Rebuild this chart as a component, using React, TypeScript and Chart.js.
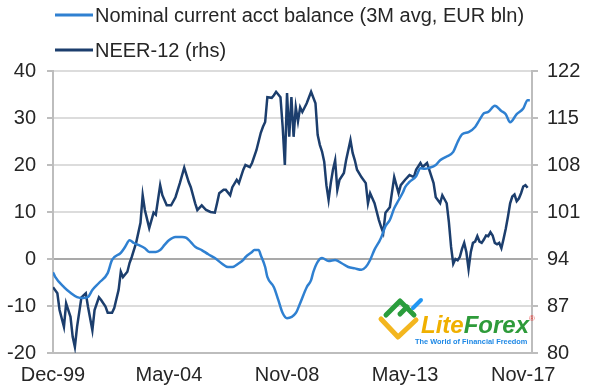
import React, { useEffect, useRef } from "react";
import { Chart, registerables } from "chart.js";

Chart.register(...registerables);

// x values are months since Dec-99
const tickMonths = [0, 53, 107, 161, 215];
const tickLabels = ["Dec-99", "May-04", "Nov-08", "May-13", "Nov-17"];
const leftTicks = { min: -20, max: 40, step: 10 };
const rightTicks = { min: 80, max: 122, step: 7 };

const caLabel = "Nominal current acct balance (3M avg, EUR bln)";
const caMonths = [
  0, 1, 5, 8, 11, 14, 16, 18, 21, 25, 27, 31, 33, 35, 37, 39, 42, 44, 47, 49,
  51, 53, 56, 59, 61, 63, 65, 68, 71, 74, 77, 80, 82, 85, 87, 88, 91, 92, 94, 95,
  97, 98, 101, 103, 105, 107, 111, 113, 116, 118, 119, 121, 123, 126, 129, 132, 135, 138, 141, 143,
  145, 147, 149, 150, 152, 154, 156, 158, 160, 161, 163, 166, 168, 170, 172, 175, 177, 180, 183, 185,
  187, 190, 193, 195, 197, 199, 202, 205, 207, 209, 212, 215, 217, 218,
];
const caValues = [
  -2.8, -3.8, -6.0, -7.2, -8.1, -8.3, -8.1, -6.6, -5.1, -3.0, -0.2, 1.3, 2.6, 4.0, 3.4, 3.0, 2.3, 1.5, 1.5, 1.9,
  3.0, 4.0, 4.7, 4.7, 4.5, 3.6, 2.6, 1.9, 1.0, 0.2, -0.9, -1.7, -1.7, -0.9, -0.2, 0.4, 1.5, 1.9, 1.9, 0.8,
  -1.7, -3.8, -6.0, -8.7, -11.5, -12.6, -11.5, -9.4, -6.0, -4.5, -2.8, -0.6, 0.2, -0.4, -0.2, -0.9, -1.7, -2.0, -2.3, -1.7,
  -0.2, 2.0, 3.6, 4.5, 7.0, 8.3, 10.8, 12.5, 14.2, 15.3, 16.4, 17.6, 19.3, 19.2, 19.4, 20.0, 21.0, 21.8, 22.8, 24.9,
  26.5, 27.0, 28.1, 29.6, 31.0, 31.3, 32.6, 31.5, 30.8, 29.1, 30.8, 32.0, 33.8, 33.8,
];

const neerLabel = "NEER-12 (rhs)";
const neerMonths = [
  0, 2, 3, 5, 6, 8, 9, 10, 11, 13, 15, 16, 18, 19, 21, 22, 24, 25, 27, 28,
  30, 31, 32, 34, 35, 36, 38, 40, 41, 42, 44, 46, 47, 49, 50, 52, 54, 56, 58, 60,
  62, 63, 65, 66, 68, 70, 72, 74, 75, 76, 78, 79, 81, 82, 84, 85, 87, 88, 90, 91,
  93, 95, 96, 97, 98, 100, 101, 102, 104, 105, 106, 107, 108, 109, 110, 111, 112, 113, 114, 116,
  118, 120, 121, 122, 123, 124, 125, 126, 127, 128, 129, 130, 131, 133, 134, 136, 137, 138, 139, 141,
  143, 144, 145, 147, 149, 150, 151, 152, 154, 156, 158, 159, 161, 163, 165, 166, 168, 169, 171, 172,
  174, 175, 177, 178, 180, 181, 182, 183, 184, 185, 186, 187, 188, 189, 190, 191, 192, 193, 194, 195,
  196, 197, 198, 199, 200, 201, 202, 203, 204, 205, 206, 207, 208, 209, 210, 211, 212, 213, 214, 215,
  216, 217,
];
const neerValues = [
  89.8, 88.9, 86.4, 83.9, 87.4, 85.4, 82.4, 80.9, 83.9, 88.3, 88.9, 86.9, 83.4, 86.4, 88.3, 87.9, 86.9, 86.0, 86.0, 86.7,
  89.4, 92.1, 91.3, 92.1, 93.4, 94.3, 96.4, 99.4, 103.5, 101.3, 98.6, 100.9, 100.6, 105.0, 103.5, 102.0, 102.0, 103.2, 105.3, 107.6,
  105.5, 104.7, 102.3, 101.3, 102.0, 101.3, 101.0, 100.9, 102.3, 103.8, 104.3, 104.3, 103.5, 104.7, 105.8, 105.3, 107.3, 108.0, 107.7, 108.3,
  110.2, 112.8, 113.7, 114.4, 118.1, 118.0, 118.4, 118.9, 118.1, 113.7, 108.0, 118.7, 112.2, 118.1, 112.2, 116.6, 114.5, 116.6, 115.9, 117.2,
  118.9, 117.2, 112.5, 111.0, 110.0, 108.5, 105.0, 102.8, 105.3, 107.3, 108.7, 104.3, 105.8, 106.8, 108.7, 111.7, 109.8, 108.7, 107.3, 106.2,
  105.3, 102.3, 103.8, 102.3, 99.8, 98.8, 97.9, 100.9, 101.7, 106.2, 103.8, 105.0, 105.8, 106.5, 106.2, 107.3, 108.3, 107.7, 108.3, 107.3,
  105.3, 103.2, 102.3, 103.5, 102.3, 99.5, 95.8, 93.3, 94.0, 93.8, 94.3, 95.5, 96.4, 95.0, 92.5, 95.0, 96.4, 96.6, 97.4, 96.6,
  96.4, 96.9, 97.5, 97.4, 98.0, 97.5, 96.4, 96.2, 96.4, 95.6, 97.0, 98.5, 100.3, 102.3, 103.3, 103.6, 102.6, 103.0, 103.8, 104.8,
  105.0, 104.6,
];

const FONT = '"Liberation Sans", Arial, Helvetica, sans-serif';
const TEXT = "#262626";
const GRID = "#dcdcdc";
const AXIS = "#bdbdbd";

const legendPlugin = {
  id: "topLegend",
  afterDraw(chart: any) {
    const ctx = chart.ctx;
    ctx.save();
    chart.data.datasets.forEach((ds: any, i: number) => {
      const y = 15 + i * 35;
      ctx.strokeStyle = ds.borderColor;
      ctx.lineWidth = 3;
      ctx.beginPath();
      ctx.moveTo(55, y);
      ctx.lineTo(93, y);
      ctx.stroke();
      ctx.fillStyle = TEXT;
      ctx.font = `20px ${FONT}`;
      ctx.textAlign = "left";
      ctx.textBaseline = "middle";
      ctx.fillText(ds.label, 95, y + 1);
    });
    ctx.restore();
  },
};

const logoPlugin = {
  id: "brandMark",
  afterDraw(chart: any) {
    const ctx = chart.ctx;
    ctx.save();
    ctx.lineCap = "round";
    ctx.lineJoin = "round";
    // icon
    ctx.strokeStyle = "#2a9d3c";
    ctx.lineWidth = 5;
    ctx.beginPath();
    ctx.moveTo(386, 315);
    ctx.lineTo(400, 301);
    ctx.lineTo(414, 315);
    ctx.stroke();
    ctx.beginPath();
    ctx.moveTo(400, 314);
    ctx.lineTo(407, 307);
    ctx.stroke();
    ctx.strokeStyle = "#f3b61f";
    ctx.beginPath();
    ctx.moveTo(381, 319);
    ctx.lineTo(398, 337);
    ctx.lineTo(416, 320);
    ctx.stroke();
    ctx.strokeStyle = "#2196f3";
    ctx.lineWidth = 4;
    ctx.beginPath();
    ctx.moveTo(413, 308);
    ctx.lineTo(421, 300);
    ctx.stroke();
    // wordmark
    ctx.font = `italic bold 24px ${FONT}`;
    ctx.textAlign = "left";
    ctx.textBaseline = "alphabetic";
    ctx.fillStyle = "#f0b000";
    ctx.fillText("Lite", 421, 333);
    const w = ctx.measureText("Lite").width;
    ctx.fillStyle = "#2e9b3a";
    ctx.fillText("Forex", 421 + w, 333);
    ctx.fillStyle = "#e53935";
    ctx.font = `8px ${FONT}`;
    ctx.fillText("®", 529, 321);
    ctx.fillStyle = "#1e88e5";
    ctx.font = `bold 7.4px ${FONT}`;
    ctx.fillText("The World of Financial Freedom", 415, 344);
    ctx.restore();
  },
};

export default function App() {
  const ref = useRef<HTMLCanvasElement>(null);

  useEffect(() => {
    if (!ref.current) return;
    const chart = new Chart(ref.current, {
      type: "line",
      data: {
        datasets: [
          {
            label: caLabel,
            data: caMonths.map((m, i) => ({ x: m, y: caValues[i] })),
            borderColor: "#2f80d1",
            borderWidth: 2.5,
            pointRadius: 0,
            cubicInterpolationMode: "monotone",
            yAxisID: "y",
          },
          {
            label: neerLabel,
            data: neerMonths.map((m, i) => ({ x: m, y: neerValues[i] })),
            borderColor: "#1c3e6d",
            borderWidth: 2.5,
            pointRadius: 0,
            tension: 0,
            yAxisID: "y1",
          },
        ],
      },
      options: {
        responsive: false,
        animation: false,
        layout: { padding: { top: 71, left: 7, right: 10, bottom: 0 } },
        plugins: { legend: { display: false }, tooltip: { enabled: false } },
        scales: {
          x: {
            type: "linear",
            min: 0,
            max: 219,
            afterBuildTicks: (scale: any) => {
              scale.ticks = tickMonths.map((v) => ({ value: v }));
            },
            afterFit: (scale: any) => {
              scale.height = 37;
            },
            grid: { display: false, drawTicks: false },
            border: { display: true, color: AXIS, width: 2 },
            ticks: {
              autoSkip: false,
              maxRotation: 0,
              padding: 10,
              color: TEXT,
              font: { family: FONT, size: 20 },
              callback: (value: any) => {
                const i = tickMonths.indexOf(value);
                return i >= 0 ? tickLabels[i] : "";
              },
            },
          },
          y: {
            position: "left",
            min: leftTicks.min,
            max: leftTicks.max,
            afterFit: (scale: any) => {
              scale.width = 46;
            },
            grid: {
              color: (c: any) => (c.tick && c.tick.value === 0 ? "#a9a9a9" : GRID),
              lineWidth: 2,
              tickLength: 6,
              tickColor: AXIS,
            },
            border: { display: true, color: AXIS, width: 2 },
            ticks: {
              stepSize: leftTicks.step,
              padding: 11,
              color: TEXT,
              font: { family: FONT, size: 20 },
            },
          },
          y1: {
            position: "right",
            min: rightTicks.min,
            max: rightTicks.max,
            afterFit: (scale: any) => {
              scale.width = 48;
            },
            grid: {
              drawOnChartArea: false,
              tickLength: 6,
              color: AXIS,
              lineWidth: 2,
            },
            border: { display: true, color: AXIS, width: 2 },
            ticks: {
              stepSize: rightTicks.step,
              padding: 9,
              color: TEXT,
              font: { family: FONT, size: 20 },
            },
          },
        },
      },
      plugins: [legendPlugin, logoPlugin],
    });
    return () => chart.destroy();
  }, []);

  return (
    <div style={{ position: "fixed", left: 0, top: 0, width: 590, height: 390, background: "#fff" }}>
      <canvas ref={ref} width={590} height={390} />
    </div>
  );
}
